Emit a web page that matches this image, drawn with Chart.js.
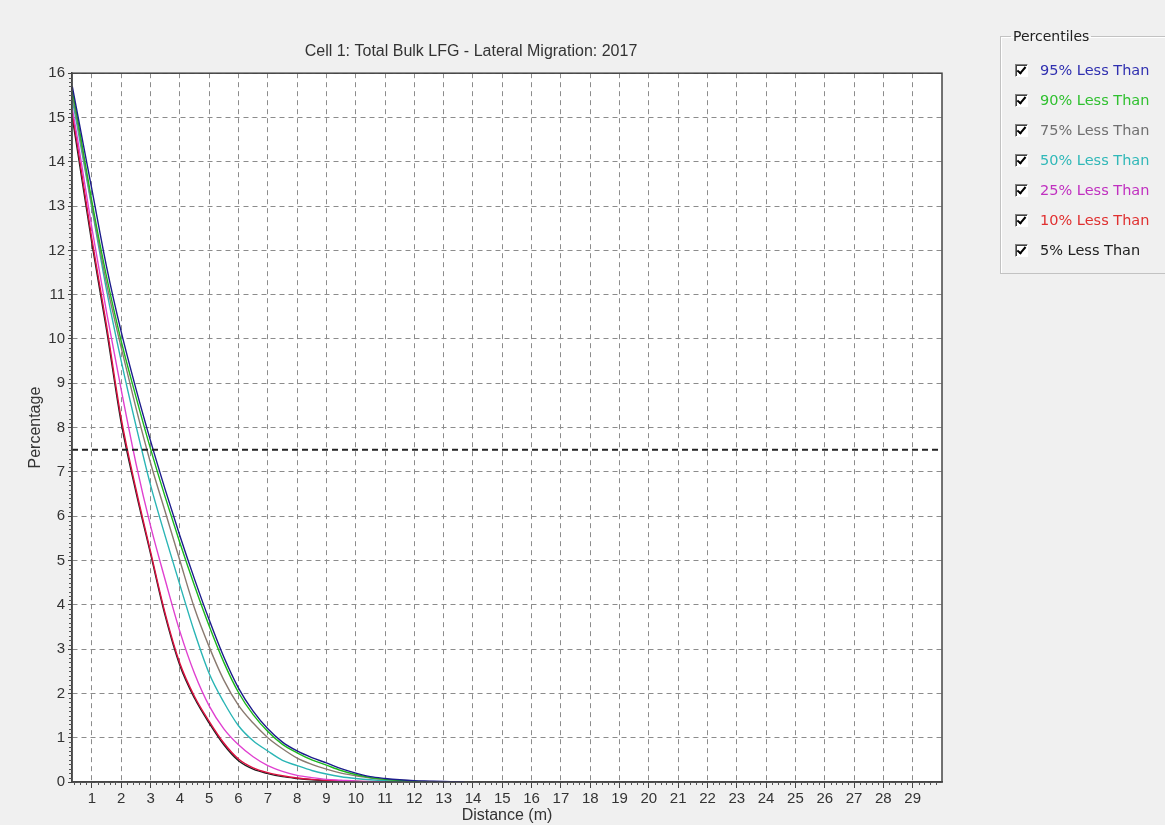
<!DOCTYPE html>
<html>
<head>
<meta charset="utf-8">
<script src="https://cdn.jsdelivr.net/npm/chart.js@4.4.0/dist/chart.umd.min.js"></script>
<style>
html,body{margin:0;padding:0;background:#f0f0f0;}
body{width:1165px;height:825px;position:relative;overflow:hidden;font-family:"Liberation Sans",Arial,sans-serif;}
#wrap{position:absolute;left:0;top:0;width:1165px;height:825px;}
#pct{position:absolute;left:1000px;top:28px;width:190px;height:246px;box-sizing:border-box;margin:0;padding:0 0 0 10px;
  border:1px solid #c2c2c2;box-shadow:inset 1px 1px 0 #fff;}
#pct legend{padding:0 2px;font:14px "DejaVu Sans",sans-serif;color:#222;}
#items{position:absolute;left:1015px;top:55px;}
.row{height:30px;display:flex;align-items:center;font:14.5px "DejaVu Sans",sans-serif;white-space:nowrap;}
.box{position:relative;width:11px;height:11px;border:1px solid;border-color:#808080 #fff #fff #808080;box-shadow:inset 1px 1px 0 #404040;
  background:#fff;margin-right:12px;}
.box::after{content:'';position:absolute;left:3px;top:0px;width:3px;height:7px;border:solid #000;border-width:0 2px 2px 0;transform:rotate(40deg);}
</style>
</head>
<body>
<div id="wrap"><canvas id="chart"></canvas></div>
<fieldset id="pct"><legend>Percentiles</legend></fieldset>
<div id="items"></div>
<script>
// distance (m) samples shared by all curves
const distances = [0.33,0.5,1,1.5,2,2.5,3,3.5,4,4.5,5,5.5,6,6.5,7,7.5,8,8.5,9,9.5,10,10.5,11,11.5,12,12.5,13,13.5,13.7];

// percentage by percentile
const p95 = [15.7,15.11,13.37,11.63,10.16,8.88,7.7,6.6,5.56,4.58,3.66,2.82,2.12,1.6,1.2,0.9,0.7,0.55,0.43,0.3,0.2,0.12,0.08,0.05,0.03,0.02,0.01,0.005,0];
const p90 = [15.6,15.0,13.1,11.4,9.95,8.7,7.52,6.43,5.4,4.43,3.52,2.7,2.02,1.52,1.14,0.85,0.66,0.5,0.38,0.26,0.17,0.1,0.06,0.035,0.015,0,null,null,null];
const p75 = [15.5,14.9,13.0,11.25,9.8,8.45,7.2,6.1,5.0,3.92,3.05,2.3,1.73,1.33,1.0,0.75,0.54,0.4,0.29,0.2,0.14,0.09,0.06,0.04,0.02,0.01,0,null,null];
const p50 = [15.4,14.8,12.95,11.1,9.5,8.05,6.7,5.55,4.45,3.38,2.45,1.8,1.27,0.93,0.7,0.49,0.37,0.26,0.18,0.12,0.08,0.05,0.03,0.02,0.01,0,null,null,null];
const p25 = [15.2,14.55,12.5,10.6,8.85,7.2,5.78,4.56,3.4,2.45,1.72,1.2,0.84,0.57,0.37,0.24,0.15,0.1,0.06,0.04,0.02,0.01,0,null,null,null,null,null,null];
const p10 = [15.1,14.4,12.25,10.3,8.2,6.62,5.2,3.8,2.68,1.93,1.37,0.88,0.52,0.32,0.21,0.14,0.09,0.06,0.04,0.025,0.015,0.005,0,null,null,null,null,null,null];
const p5  = [15.0,14.28,12.15,10.2,8.1,6.55,5.15,3.75,2.63,1.89,1.33,0.84,0.48,0.29,0.19,0.12,0.08,0.05,0.03,0.02,0.01,0,null,null,null,null,null,null,null];

const seriesLabels = ['95% Less Than','90% Less Than','75% Less Than','50% Less Than','25% Less Than','10% Less Than','5% Less Than'];
const seriesValues = [p95,p90,p75,p50,p25,p10,p5];
const lineColors = ['#1c1c8c','#1cb81c','#8a7a70','#2ab5b5','#e040d0','#dd1040','#202020'];
const textColors = ['#3030b0','#30c030','#707070','#30b8b8','#c030c0','#e03030','#202020'];

const xTickValues = [1,2,3,4,5,6,7,8,9,10,11,12,13,14,15,16,17,18,19,20,21,22,23,24,25,26,27,28,29];
const thresholdLevel = 7.5;
const X_MIN = 0.32, X_MAX = 30, Y_MIN = 0, Y_MAX = 16;

// legend (group box)
const itemsEl = document.getElementById('items');
seriesLabels.forEach((t,i)=>{
  const row = document.createElement('div');
  row.className = 'row';
  row.innerHTML = `<span class="box"></span><span style="color:${textColors[i]}">${t}</span>`;
  itemsEl.appendChild(row);
});

const frame = {
  id:'frame',
  beforeDraw(chart){
    const {ctx, chartArea:a} = chart;
    ctx.save(); ctx.fillStyle = '#fff';
    ctx.fillRect(a.left, a.top, a.right-a.left, a.bottom-a.top);
    ctx.restore();
  },
  afterDraw(chart){
    const {ctx, chartArea:a, scales:{x,y}} = chart;
    ctx.save();
    ctx.strokeStyle = '#444'; ctx.lineWidth = 1.5;
    ctx.strokeRect(a.left, a.top, a.right-a.left, a.bottom-a.top);
    // minor ticks
    ctx.lineWidth = 1; ctx.strokeStyle = '#555';
    ctx.beginPath();
    for(let i=0;i<=160;i++){
      if(i%10===0) continue;
      const py = Math.round(y.getPixelForValue(i/10))+0.5;
      ctx.moveTo(a.left-3, py); ctx.lineTo(a.left, py);
    }
    for(let i=2;i<=150;i++){
      if(i%5===0) continue;
      const v = i/5;
      if(v<X_MIN || v>X_MAX) continue;
      const px = Math.round(x.getPixelForValue(v))+0.5;
      ctx.moveTo(px, a.bottom); ctx.lineTo(px, a.bottom+3);
    }
    ctx.stroke();
    ctx.restore();
  }
};

const datasets = [{
  label:'threshold',
  data:[{x:X_MIN,y:thresholdLevel},{x:X_MAX,y:thresholdLevel}],
  borderColor:'#222', borderWidth:2, borderDash:[6,4], pointRadius:0, tension:0
}];
seriesLabels.forEach((lab,i)=>{
  const pts = [];
  distances.forEach((d,k)=>{ if(seriesValues[i][k]!==null) pts.push({x:d,y:seriesValues[i][k]}); });
  datasets.push({label:lab, data:pts, borderColor:lineColors[i], borderWidth:1.4, pointRadius:0,
    cubicInterpolationMode:'monotone', fill:false});
});

const tickFont = {family:'"Liberation Sans", Arial, sans-serif', size:15};
const titleFont = {family:'"Liberation Sans", Arial, sans-serif', size:16, weight:'normal'};

new Chart(document.getElementById('chart').getContext('2d'), {
  type:'line',
  data:{datasets},
  options:{
    animation:false, responsive:true, maintainAspectRatio:false,
    layout:{padding:{left:0,right:223,top:0,bottom:0}},
    plugins:{
      legend:{display:false}, tooltip:{enabled:false},
      title:{display:true, text:'Cell 1: Total Bulk LFG - Lateral Migration: 2017', color:'#333',
        font:titleFont, padding:{top:42,bottom:12}}
    },
    scales:{
      x:{
        type:'linear', min:X_MIN, max:X_MAX,
        afterBuildTicks:(s)=>{ s.ticks = xTickValues.map(v=>({value:v})); },
        afterFit:(s)=>{ s.height = 43; },
        ticks:{autoSkip:false, maxRotation:0, color:'#333', font:tickFont, padding:2},
        grid:{color:'#8c8c8c', lineWidth:1, tickLength:6, tickColor:'#444', tickBorderDash:[]},
        border:{color:'#444', width:1.5, dash:[5,4]},
        title:{display:true, text:'Distance (m)', color:'#333', font:titleFont, padding:{top:0,bottom:0}}
      },
      y:{
        min:Y_MIN, max:Y_MAX,
        afterFit:(s)=>{ s.width = 72; },
        ticks:{stepSize:1, color:'#333', font:tickFont, padding:3},
        grid:{color:'#8c8c8c', lineWidth:1, tickLength:4, tickColor:'#444', tickBorderDash:[]},
        border:{color:'#444', width:1.5, dash:[5,4]},
        title:{display:true, text:'Percentage', color:'#333', font:titleFont, padding:{top:26,bottom:0}}
      }
    }
  },
  plugins:[frame]
});
</script>
</body>
</html>
